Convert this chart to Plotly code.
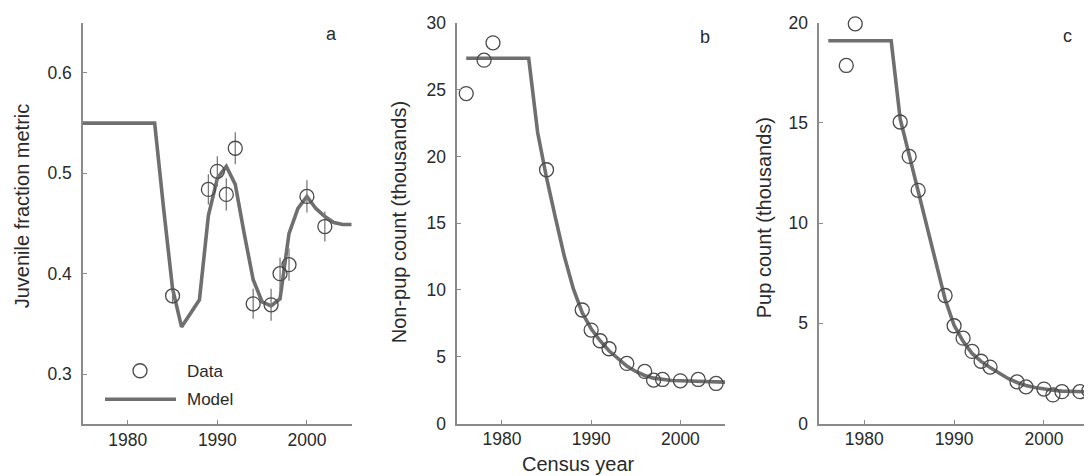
import plotly.graph_objects as go

W, H = 1092, 476
OFF = 8          # page body margin
VS = 0.958       # measured vertical scale of the rendered picture around its middle
VC = 240

# ---------------- data ----------------
# Panel a: juvenile fraction metric
a_data_year = [1985, 1989, 1990, 1991, 1992, 1994, 1996, 1997, 1998, 2000, 2002]
a_data_val = [0.378, 0.484, 0.502, 0.479, 0.525, 0.370, 0.369, 0.400, 0.409, 0.477, 0.447]
a_data_err = [0.008, 0.015, 0.015, 0.016, 0.016, 0.015, 0.016, 0.016, 0.016, 0.016, 0.015]
a_model_year = [1975, 1983, 1984, 1985, 1986, 1987, 1988, 1989, 1990, 1991, 1992, 1993,
                1994, 1995, 1996, 1997, 1998, 1999, 2000, 2001, 2002, 2003, 2004, 2005]
a_model_val = [0.550, 0.550, 0.465, 0.385, 0.347, 0.360, 0.374, 0.458, 0.495, 0.507, 0.489, 0.440,
               0.394, 0.372, 0.368, 0.375, 0.440, 0.465, 0.477, 0.465, 0.457, 0.451, 0.449, 0.449]

# Panel b: non-pup count (thousands)
b_data_year = [1976, 1978, 1979, 1985, 1989, 1990, 1991, 1992, 1994, 1996, 1997, 1998, 2000, 2002, 2004]
b_data_val = [24.7, 27.2, 28.5, 19.0, 8.5, 7.0, 6.2, 5.6, 4.5, 3.9, 3.25, 3.3, 3.2, 3.3, 3.0]
b_model_year = [1976, 1983, 1984, 1985, 1986, 1987, 1988, 1989, 1990, 1991, 1992, 1993,
                1994, 1995, 1996, 1997, 1998, 1999, 2000, 2001, 2002, 2003, 2004, 2005]
b_model_val = [27.35, 27.35, 21.8, 18.4, 15.4, 12.5, 10.1, 8.3, 7.1, 6.2, 5.45, 4.85,
               4.3, 3.9, 3.6, 3.4, 3.3, 3.22, 3.2, 3.18, 3.16, 3.14, 3.12, 3.1]

# Panel c: pup count (thousands)
c_data_year = [1978, 1979, 1984, 1985, 1986, 1989, 1990, 1991, 1992, 1993, 1994,
               1997, 1998, 2000, 2001, 2002, 2004, 2005]
c_data_val = [17.87, 19.95, 15.05, 13.33, 11.64, 6.39, 4.88, 4.26, 3.6, 3.11, 2.82,
              2.08, 1.83, 1.72, 1.43, 1.59, 1.59, 1.64]
c_model_year = [1976, 1983, 1984, 1985, 1986, 1987, 1988, 1989, 1990, 1991, 1992, 1993,
                1994, 1995, 1996, 1997, 1998, 1999, 2000, 2001, 2002, 2003, 2004, 2005]
c_model_val = [19.1, 19.1, 15.2, 13.4, 11.6, 9.9, 8.1, 6.2, 4.9, 4.1, 3.5, 3.1,
               2.8, 2.5, 2.25, 2.05, 1.9, 1.8, 1.72, 1.66, 1.62, 1.6, 1.59, 1.58]

x_ticks = [1980, 1990, 2000]
a_yticks = [0.3, 0.4, 0.5, 0.6]
b_yticks = [0, 5, 10, 15, 20, 25, 30]
c_yticks = [0, 5, 10, 15, 20]

# ---------------- styles ----------------
FONT = "Liberation Sans, Arial, Helvetica, sans-serif"
LINE_COL = "#6f6f6f"
AXIS_COL = "#8a8a8a"
TEXT_COL = "#2a2a2a"
MARK_COL = "#4a4a4a"


def px(x):
    return (x - OFF) / W


def py(y, min_fig=None):
    fy = VC + (y - VC) / VS - OFF
    if min_fig is not None:
        fy = max(fy, min_fig)
    return min(1.0, max(0.0, 1 - fy / H))


fig = go.Figure()

panels = [
    ("x", "y", a_model_year, a_model_val, a_data_year, a_data_val, a_data_err),
    ("x2", "y2", b_model_year, b_model_val, b_data_year, b_data_val, None),
    ("x3", "y3", c_model_year, c_model_val, c_data_year, c_data_val, None),
]
for xa, ya, my, mv, dy, dv, de in panels:
    fig.add_trace(go.Scatter(x=my, y=mv, mode="lines", xaxis=xa, yaxis=ya,
                             line=dict(color=LINE_COL, width=3.6), showlegend=False,
                             hoverinfo="skip", cliponaxis=False))
    err = None
    if de is not None:
        err = dict(type="data", array=de, visible=True, color="#7a7a7a",
                   thickness=1.3, width=0)
    fig.add_trace(go.Scatter(x=dy, y=dv, mode="markers", xaxis=xa, yaxis=ya,
                             error_y=err, showlegend=False, cliponaxis=False,
                             marker=dict(symbol="circle-open", size=14,
                                         color=MARK_COL, line=dict(width=1.3, color=MARK_COL))))

axis_common = dict(showline=True, linecolor=AXIS_COL, linewidth=1.5, ticks="inside",
                   ticklen=4, tickwidth=1.2, tickcolor=AXIS_COL, showgrid=False,
                   zeroline=False, ticklabeloverflow="allow",
                   tickfont=dict(family=FONT, size=17.5, color=TEXT_COL))

# pixel geometry (reference picture coordinates) of the three plotting areas
geo = [
    (83, 351.7, 15, 424),
    (457.3, 725, 16, 423.3),
    (819.3, 1088.9, 16.7, 423.3),
]
yranges = [[0.25, 0.65], [0, 30], [0, 20]]
yticks = [a_yticks, b_yticks, c_yticks]

layout = dict(width=W, height=H, margin=dict(l=0, r=0, t=0, b=0),
              paper_bgcolor="white", plot_bgcolor="white", showlegend=False,
              font=dict(family=FONT, color=TEXT_COL))
for i, (x0, x1, y0, y1) in enumerate(geo):
    sx = "" if i == 0 else str(i + 1)
    layout["xaxis" + sx] = dict(axis_common, domain=[px(x0), px(x1)], range=[1975, 2005],
                                tickvals=x_ticks, anchor="y" + sx, ticklabelstandoff=-1)
    layout["yaxis" + sx] = dict(axis_common, domain=[py(y1), py(y0, min_fig=5)], range=yranges[i],
                                tickvals=yticks[i], anchor="x" + sx, ticklabelstandoff=6)
fig.update_layout(**layout)

annotations = []
# y-axis titles
for text, xc, yc in [("Juvenile fraction metric", 22, 206),
                     ("Non-pup count (thousands)", 399, 222),
                     ("Pup count (thousands)", 764, 218)]:
    annotations.append(dict(text=text, x=px(xc), y=py(yc), xref="paper", yref="paper",
                            textangle=-90, showarrow=False, xanchor="center", yanchor="middle",
                            font=dict(family=FONT, size=20, color=TEXT_COL)))
# x title
annotations.append(dict(text="Census year", x=px(578), y=py(464), xref="paper", yref="paper",
                        showarrow=False, xanchor="center", yanchor="middle",
                        font=dict(family=FONT, size=20, color=TEXT_COL)))
# panel letters
for t, xc, yc in [("a", 331, 34), ("b", 705, 37), ("c", 1067, 36)]:
    annotations.append(dict(text=t, x=px(xc), y=py(yc), xref="paper", yref="paper",
                            showarrow=False, xanchor="center", yanchor="middle",
                            font=dict(family=FONT, size=18, color=TEXT_COL)))
# legend texts
for t, yc in [("Data", 371), ("Model", 399)]:
    annotations.append(dict(text=t, x=px(185), y=py(yc), xref="paper", yref="paper",
                            showarrow=False, xanchor="left", yanchor="middle",
                            font=dict(family=FONT, size=17, color=TEXT_COL)))
fig.update_layout(annotations=annotations)

shapes = [
    dict(type="circle", xref="paper", yref="paper", xsizemode="pixel", ysizemode="pixel",
         xanchor=px(140), yanchor=py(370.5), x0=-7, x1=7, y0=-7, y1=7,
         line=dict(color=MARK_COL, width=1.3)),
    dict(type="line", xref="paper", yref="paper", x0=px(105), x1=px(176),
         y0=py(399), y1=py(399), line=dict(color=LINE_COL, width=3.6)),
]
fig.update_layout(shapes=shapes)

fig.write_html("out.html")
